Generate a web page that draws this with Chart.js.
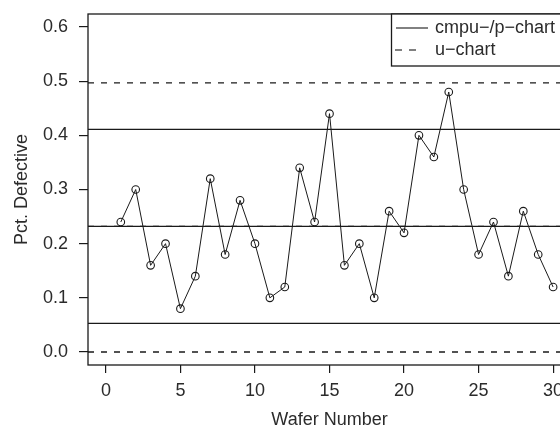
<!DOCTYPE html>
<html>
<head>
<meta charset="utf-8">
<script src="https://cdn.jsdelivr.net/npm/chart.js@4.4.0/dist/chart.umd.min.js"></script>
<style>
  html, body { margin: 0; padding: 0; background: #fff; overflow: hidden; }
  #wrap { width: 580px; height: 432px; }
</style>
</head>
<body>
<div id="wrap"><canvas id="chart" width="580" height="432"></canvas></div>
<script>
// Wafer data
const wafers = [1, 2, 3, 4, 5, 6, 7, 8, 9, 10, 11, 12, 13, 14, 15, 16, 17, 18, 19, 20, 21, 22, 23, 24, 25, 26, 27, 28, 29, 30];
const pctDefective = [0.24, 0.30, 0.16, 0.20, 0.08, 0.14, 0.32, 0.18, 0.28, 0.20, 0.10, 0.12, 0.34, 0.24, 0.44, 0.16, 0.20, 0.10, 0.26, 0.22, 0.40, 0.36, 0.48, 0.30, 0.18, 0.24, 0.14, 0.26, 0.18, 0.12];

// Control limits
const centerLine = 0.232;
const pLimits = [0.411, 0.053];   // cmpu-/p-chart
const uLimits = [0.497, 0.0];     // u-chart

const xTicks = [0, 5, 10, 15, 20, 25, 30];
const yTicks = [0.0, 0.1, 0.2, 0.3, 0.4, 0.5, 0.6];
const xRange = [-1.2, 31.2];
const yRange = [-0.024, 0.624];

const legendLabels = ['cmpu\u2212/p\u2212chart', 'u\u2212chart'];

const ink = '#1a1a1a';
const textCol = '#2b2b2b';
const fontFam = '"Liberation Sans", Arial, Helvetica, sans-serif';
const fontSize = 18;

function hline(y, dashed) {
  return {
    data: [{ x: xRange[0], y: y }, { x: xRange[1], y: y }],
    borderColor: ink,
    borderWidth: 1.3,
    borderDash: dashed ? [6, 7] : [],
    pointRadius: 0,
    fill: false
  };
}

const limitSets = [
  hline(centerLine, false),
  hline(pLimits[0], false),
  hline(pLimits[1], false),
  hline(centerLine, true),
  hline(uLimits[0], true),
  hline(uLimits[1], true)
];

// Box + legend drawn on top
const boxLegend = {
  id: 'boxLegend',
  afterDraw(chart) {
    const { ctx, chartArea: a } = chart;
    ctx.save();
    ctx.strokeStyle = ink;
    ctx.lineWidth = 1.3;
    ctx.strokeRect(a.left, a.top, a.right - a.left, a.bottom - a.top);

    const bx = 391.5, by = a.top, bh = 52;
    ctx.fillStyle = '#fff';
    ctx.fillRect(bx, by, a.right - bx, bh);
    ctx.strokeRect(bx, by, a.right - bx, bh);

    const rows = [by + 14, by + 36];
    ctx.lineWidth = 1.1;
    ctx.beginPath();
    ctx.moveTo(396, rows[0]); ctx.lineTo(428, rows[0]);
    ctx.stroke();
    ctx.setLineDash([7, 7]);
    ctx.beginPath();
    ctx.moveTo(395, rows[1]); ctx.lineTo(417, rows[1]);
    ctx.stroke();
    ctx.setLineDash([]);

    ctx.fillStyle = textCol;
    ctx.font = fontSize + 'px ' + fontFam;
    ctx.textAlign = 'left';
    ctx.textBaseline = 'middle';
    ctx.fillText(legendLabels[0], 435, rows[0]);
    ctx.fillText(legendLabels[1], 435, rows[1]);
    ctx.restore();
  }
};

new Chart(document.getElementById('chart'), {
  type: 'line',
  data: {
    datasets: [
      ...limitSets,
      {
        data: wafers.map((w, i) => ({ x: w, y: pctDefective[i] })),
        borderColor: ink,
        borderWidth: 1,
        pointRadius: 3.8,
        pointBorderWidth: 1.1,
        pointBorderColor: ink,
        pointBackgroundColor: 'rgba(0,0,0,0)',
        fill: false,
        tension: 0
      }
    ]
  },
  options: {
    responsive: false,
    animation: false,
    layout: { padding: { top: 14, left: 0, right: 9, bottom: 0 } },
    plugins: { legend: { display: false }, tooltip: { enabled: false } },
    scales: {
      x: {
        type: 'linear',
        min: xRange[0],
        max: xRange[1],
        afterBuildTicks: s => { s.ticks = xTicks.map(v => ({ value: v })); },
        afterFit: s => { s.height = 67; s.paddingLeft = 0; s.paddingRight = 0; },
        grid: { drawOnChartArea: false, drawTicks: true, tickLength: 8, color: ink, lineWidth: 1.2 },
        border: { display: false },
        ticks: { color: textCol, font: { family: fontFam, size: fontSize }, padding: 7, maxRotation: 0 },
        title: { display: true, text: 'Wafer Number', color: textCol, font: { family: fontFam, size: fontSize }, padding: { top: 0, bottom: 1 } }
      },
      y: {
        type: 'linear',
        min: yRange[0],
        max: yRange[1],
        afterBuildTicks: s => { s.ticks = yTicks.map(v => ({ value: v })); },
        afterFit: s => { s.width = 88; s.paddingTop = 0; s.paddingBottom = 0; },
        grid: { drawOnChartArea: false, drawTicks: true, tickLength: 9, color: ink, lineWidth: 1.2 },
        border: { display: false },
        ticks: { color: textCol, font: { family: fontFam, size: fontSize }, padding: 11, callback: v => v.toFixed(1) },
        title: { display: true, text: 'Pct. Defective', color: textCol, font: { family: fontFam, size: fontSize }, padding: { top: 11, bottom: 0 } }
      }
    }
  },
  plugins: [boxLegend]
});
</script>
</body>
</html>
